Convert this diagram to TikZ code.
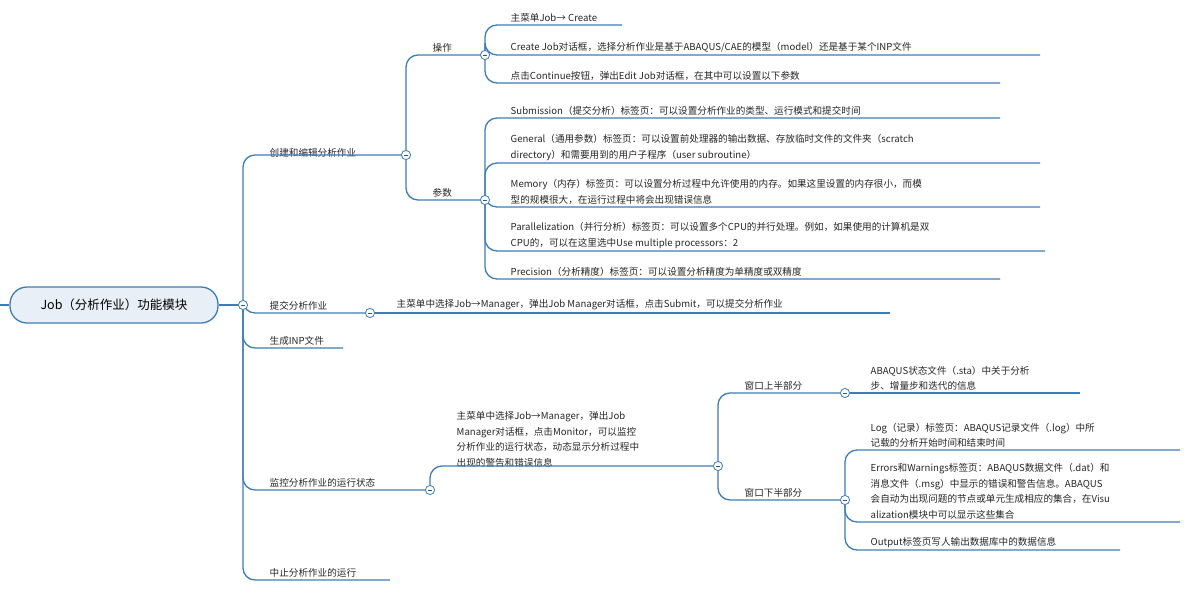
\documentclass[tikz,border=0pt]{standalone}
\usepackage{fontspec}
\setmainfont{Noto Sans CJK SC}
\begin{document}
\begin{tikzpicture}[x=1pt,y=-1pt,
  br/.style={draw=blu,line width=1.3pt,rounded corners=12pt},
  txt/.style={anchor=south west,font=\fontsize{9.6}{15.5}\selectfont,align=left,inner sep=1.5pt,text=black!85},
  col/.style={circle,draw=blu,fill=white,line width=0.7pt,minimum size=9pt,inner sep=0pt,
    path picture={\draw[blu!70!black,line width=0.6pt] ([xshift=-2.2pt]path picture bounding box.center)--([xshift=2.2pt]path picture bounding box.center);}}]
\definecolor{blu}{RGB}{62,124,184}
\useasboundingbox (0,0) rectangle (1192,595);
% root
\node[draw=blu,line width=1.3pt,fill=blu!12,rounded corners=17pt,minimum width=208pt,minimum height=36pt,font=\fontsize{12.5}{14}\selectfont] (root) at (114,305) {Job（分析作业）功能模块};
\coordinate (l0) at (0,305);
\draw[br] (l0) -- (root.west);
\node[col] (c0) at (243,305) {};
\draw[br] (root.east) -- (c0);
% level 1
\node[col] (c1) at (406,155) {};
\node[col] (c2) at (370,313) {};
\node[col] (c4) at (430,490) {};
\node[txt] (n1) at (268,159) {创建和编辑分析作业};
\node[txt] (n2) at (268,312) {提交分析作业};
\node[txt] (n3) at (268,347) {生成INP文件};
\node[txt] (n4) at (268,489) {监控分析作业的运行状态};
\node[txt] (n5) at (268,579) {中止分析作业的运行};
\draw[br] (c0) |- (c1);
\draw[br] (c0) |- (c2);
\coordinate (e3) at (343,348);
\draw[br] (c0) |- (e3);
\draw[br] (c0) |- (c4);
\coordinate (e5) at (390,580);
\draw[br] (c0) |- (e5);
% level 2 under n1
\node[col] (c11) at (485,55) {};
\node[col] (c12) at (485,200) {};
\node[txt] (n11) at (431,54) {操作};
\node[txt] (n12) at (431,199) {参数};
\draw[br] (c1) |- (c11);
\draw[br] (c1) |- (c12);
\foreach \y/\e/\t [count=\i] in {
 25/622/{主菜单Job→ Create},
 55/1040/{Create Job对话框，选择分析作业是基于ABAQUS/CAE的模型（model）还是基于某个INP文件},
 83/1000/{点击Continue按钮，弹出Edit Job对话框，在其中可以设置以下参数}}{
  \node[txt] (a\i) at (509,\y-1) {\t};
  \coordinate (ae\i) at (\e,\y);
  \draw[br] (c11) |- (ae\i);
}
\foreach \y/\e/\t [count=\i] in {
 118/1000/{Submission（提交分析）标签页：可以设置分析作业的类型、运行模式和提交时间},
 163/1040/{General（通用参数）标签页：可以设置前处理器的输出数据、存放临时文件的文件夹（scratch\\directory）和需要用到的用户子程序（user subroutine）},
 207/1040/{Memory（内存）标签页：可以设置分析过程中允许使用的内存。如果这里设置的内存很小，而模\\型的规模很大，在运行过程中将会出现错误信息},
 251/1045/{Parallelization（并行分析）标签页：可以设置多个CPU的并行处理。例如，如果使用的计算机是双\\CPU的，可以在这里选中Use multiple processors：2},
 279/1000/{Precision（分析精度）标签页：可以设置分析精度为单精度或双精度}}{
  \node[txt] (b\i) at (509,\y-1) {\t};
  \coordinate (be\i) at (\e,\y);
  \draw[br] (c12) |- (be\i);
}
% submit
\node[txt] (n21) at (395,312) {主菜单中选择Job→Manager，弹出Job Manager对话框，点击Submit，可以提交分析作业};
\coordinate (e21) at (890,313);
\draw[br] (c2) -- (e21);
% monitor
\node[col] (c41) at (718,466) {};
\node[txt] (n41) at (455,469) {主菜单中选择Job→Manager，弹出Job\\Manager对话框，点击Monitor，可以监控\\分析作业的运行状态，动态显示分析过程中\\出现的警告和错误信息};
\draw[br] (c4) |- (c41);
\node[col] (c42) at (845,393) {};
\node[col] (c43) at (845,500) {};
\node[txt] (n42) at (743,392) {窗口上半部分};
\node[txt] (n43) at (743,499) {窗口下半部分};
\draw[br] (c41) |- (c42);
\draw[br] (c41) |- (c43);
\node[txt] (d1) at (869,392) {ABAQUS状态文件（.sta）中关于分析\\步、增量步和迭代的信息};
\coordinate (de1) at (1080,393);
\draw[br] (c42) -- (de1);
\foreach \y/\e/\t [count=\i] in {
 450/1180/{Log（记录）标签页：ABAQUS记录文件（.log）中所\\记载的分析开始时间和结束时间},
 522/1180/{Errors和Warnings标签页：ABAQUS数据文件（.dat）和\\消息文件（.msg）中显示的错误和警告信息。ABAQUS\\会自动为出现问题的节点或单元生成相应的集合，在Visu\\alization模块中可以显示这些集合},
 550/1120/{Output标签页写人输出数据库中的数据信息}}{
  \node[txt] (f\i) at (869,\y-1) {\t};
  \coordinate (fe\i) at (\e,\y);
  \draw[br] (c43) |- (fe\i);
}
% redraw circles on top
\foreach \c in {c0,c1,c2,c4,c11,c12,c41,c42,c43}{\node[col] at (\c) {};}
\end{tikzpicture}
\end{document}
